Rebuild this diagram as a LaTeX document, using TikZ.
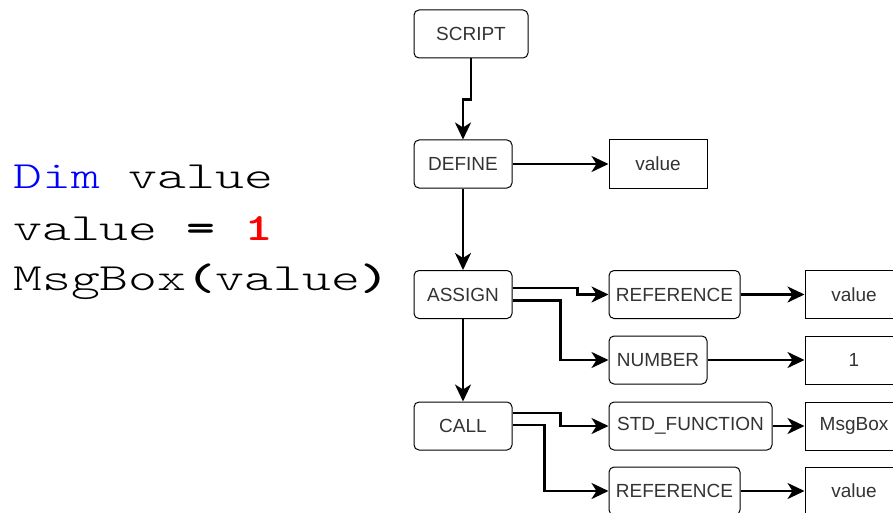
\documentclass[tikz,border=0pt]{standalone}
\usepackage{fontspec}
\setmainfont{Liberation Sans}
\setmonofont{lmmonolt10-regular}[Extension=.otf, BoldFont=lmmonolt10-bold]
\usetikzlibrary{arrows.meta,positioning}
\definecolor{kwblue}{HTML}{0000FF}
\definecolor{numred}{HTML}{FF0000}
\definecolor{boxtext}{HTML}{333333}
\newcommand{\codeline}[1]{\scalebox{1.43}[1]{\ttfamily\fontsize{38.5}{46}\selectfont #1}}

\begin{document}
\begin{tikzpicture}[x=1pt, y=-1pt,
	box/.style = {draw, rounded corners=5pt, line width=1pt, minimum height=48pt, inner sep=0pt, text=boxtext, font=\fontsize{19}{22}\selectfont},
	leaf/.style = {box, rounded corners=0pt, minimum width=98pt},
	link/.style = {line width=2.5pt, -{Stealth[length=17pt, width=16pt, inset=5pt]}},
	code/.style = {anchor=base west, inner sep=0pt}]
	\useasboundingbox (0,0) rectangle (893,513);
	\clip (0,0) rectangle (893,513);

	\node[code] (line1) at (13,188) {\codeline{\textcolor{kwblue}{Dim} value}};
	\node[code] (line2) at (13,240) {\codeline{value \textbf{=} \textcolor{numred}{\textbf{1}}}};
	\node[code] (line3) at (13,290) {\codeline{MsgBox\textbf{(}value\textbf{)}}};

	\node[box, minimum width=114pt] (script) at (471,34) {SCRIPT};
	\node[box, minimum width=98pt] (define) at (463,164) {DEFINE};
	\node[leaf] (defval) at (658,164) {value};
	\node[box, minimum width=98pt] (assign) at (463,294.5) {ASSIGN};
	\node[box, minimum width=131pt] (ref1) at (674.5,294.5) {REFERENCE};
	\node[leaf] (val1) at (854,294.5) {value};
	\node[box, minimum width=98pt] (number) at (658,360) {NUMBER};
	\node[leaf] (num1) at (854,360) {1};
	\node[box, minimum width=98pt] (call) at (463,426) {CALL};
	\node[box, minimum width=163pt] (stdfn) at (690.5,426) {STD\_FUNCTION};
	\node[leaf] (msgbox) at (854,426) {MsgBox};
	\node[box, minimum width=131pt] (ref2) at (674.5,491) {REFERENCE};
	\node[leaf] (val2) at (854,491) {value};

	\draw[link] (script.south) -- ++(0,41) -| (define.north);
	\draw[link] (define) -- (defval);
	\draw[link] (define) -- (assign);
	\draw[link] (assign) -- (call);
	\draw[link] ([yshift=6.5pt]assign.east) -- ++(65,0) |- (ref1.west);
	\draw[link] ([yshift=-6pt]assign.east) -- ++(48,0) |- (number.west);
	\draw[link] ([yshift=13pt]call.east) -- ++(48,0) |- (stdfn.west);
	\draw[link] ([yshift=1pt]call.east) -- ++(32,0) |- (ref2.west);
	\draw[link] (ref1) -- (val1);
	\draw[link] (number) -- (num1);
	\draw[link] (stdfn) -- (msgbox);
	\draw[link] (ref2) -- (val2);
\end{tikzpicture}
\end{document}
